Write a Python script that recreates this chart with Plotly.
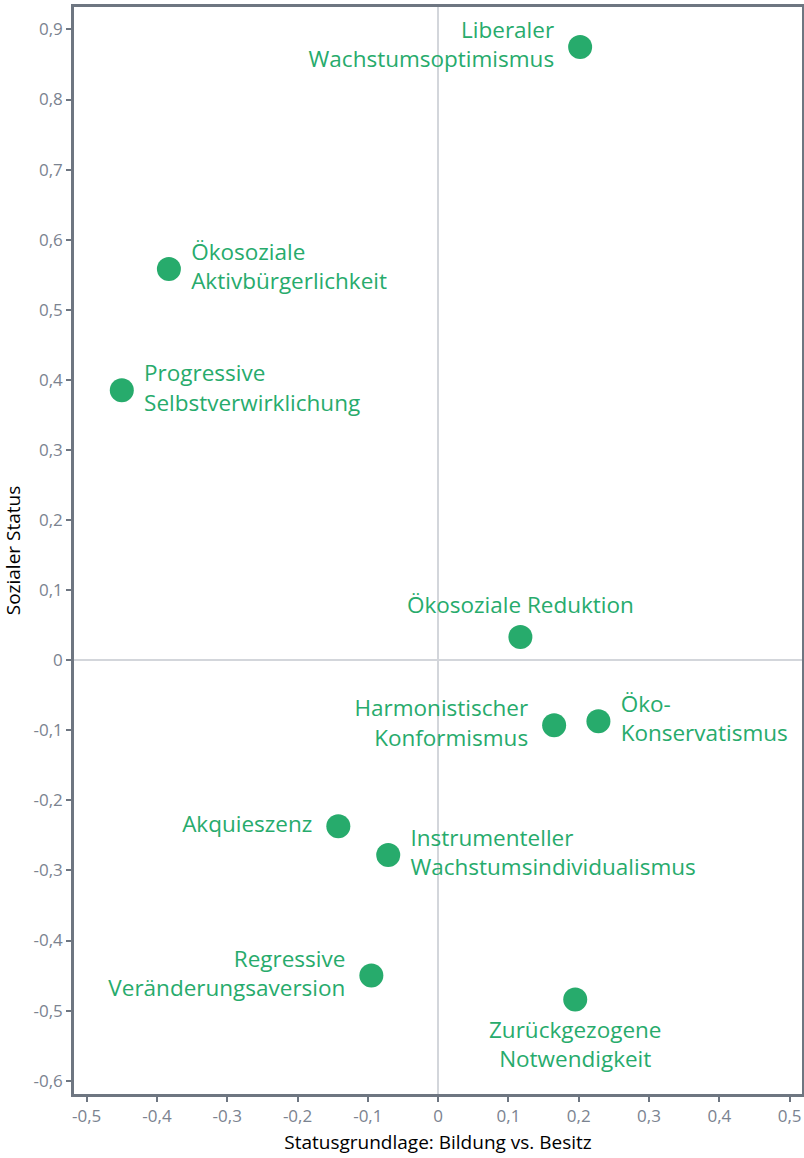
import plotly.graph_objects as go

names = [
    "Liberaler<br>Wachstumsoptimismus",
    "Ökosoziale<br>Aktivbürgerlichkeit",
    "Progressive<br>Selbstverwirklichung",
    "Ökosoziale Reduktion",
    "Harmonistischer<br>Konformismus",
    "Öko-<br>Konservatismus",
    "Akquieszenz",
    "Instrumenteller<br>Wachstumsindividualismus",
    "Regressive<br>Veränderungsaversion",
    "Zurückgezogene<br>Notwendigkeit",
]
x_vals = [0.202, -0.383, -0.450, 0.117, 0.165, 0.228, -0.142, -0.071, -0.095, 0.195]
y_vals = [0.875, 0.558, 0.385, 0.033, -0.093, -0.087, -0.237, -0.278, -0.450, -0.484]
positions = ["middle left", "middle right", "middle right", "top center", "middle left",
             "middle right", "middle left", "middle right", "middle left", "bottom center"]

x_ticks = [-0.5, -0.4, -0.3, -0.2, -0.1, 0, 0.1, 0.2, 0.3, 0.4, 0.5]
y_ticks = [0.9, 0.8, 0.7, 0.6, 0.5, 0.4, 0.3, 0.2, 0.1, 0, -0.1, -0.2, -0.3, -0.4, -0.5, -0.6]

def fmt(v):
    s = f"{v:.1f}".replace(".", ",")
    if s in ("0,0", "-0,0"):
        s = "0"
    return s

green = "#27ab6c"
axis_col = "#6e7681"
tick_col = "#7b8390"
font_fam = "'Open Sans', sans-serif"

# label offset (via invisible marker size) depending on label side
pad_by_pos = {"middle left": 40, "middle right": 34, "top center": 28, "bottom center": 33}
label_pad = [pad_by_pos[p] for p in positions]

fig = go.Figure()
fig.add_trace(go.Scatter(
    x=x_vals, y=y_vals, mode="markers",
    marker=dict(size=24, color=green),
    hoverinfo="skip", showlegend=False,
))
fig.add_trace(go.Scatter(
    x=x_vals, y=y_vals, mode="markers+text",
    text=names, textposition=positions,
    marker=dict(size=label_pad, color=green, opacity=0),
    textfont=dict(color=green, size=22.5, family=font_fam),
    hoverinfo="skip", showlegend=False,
))

fig.update_layout(
    width=804, height=1158,
    margin=dict(l=74, r=2, t=7, b=64),
    plot_bgcolor="white", paper_bgcolor="white",
    font=dict(family=font_fam),
)
fig.update_xaxes(
    range=[-0.518, 0.5176], tickvals=x_ticks, ticktext=[fmt(v) for v in x_ticks],
    showgrid=False, zeroline=True, zerolinecolor="#d3d6db", zerolinewidth=2,
    showline=True, linecolor=axis_col, linewidth=2.5, mirror=True,
    ticks="outside", ticklen=5, tickwidth=2, tickcolor=axis_col,
    tickfont=dict(size=17, color=tick_col), automargin=False,
    title=dict(text="Statusgrundlage: Bildung vs. Besitz", font=dict(size=19, color="black"), standoff=10),
)
fig.update_yaxes(
    range=[-0.619, 0.932], tickvals=y_ticks, ticktext=[fmt(v) for v in y_ticks],
    showgrid=False, zeroline=True, zerolinecolor="#d3d6db", zerolinewidth=2,
    showline=True, linecolor=axis_col, linewidth=2.5, mirror=True,
    ticks="outside", ticklen=5, tickwidth=2, tickcolor=axis_col,
    tickfont=dict(size=17, color=tick_col), automargin=False,
    title=dict(text="Sozialer Status", font=dict(size=19, color="black"), standoff=8),
)

fig.write_html("out.html", config={"displayModeBar": False},
               post_script="document.body.style.margin='0';")
